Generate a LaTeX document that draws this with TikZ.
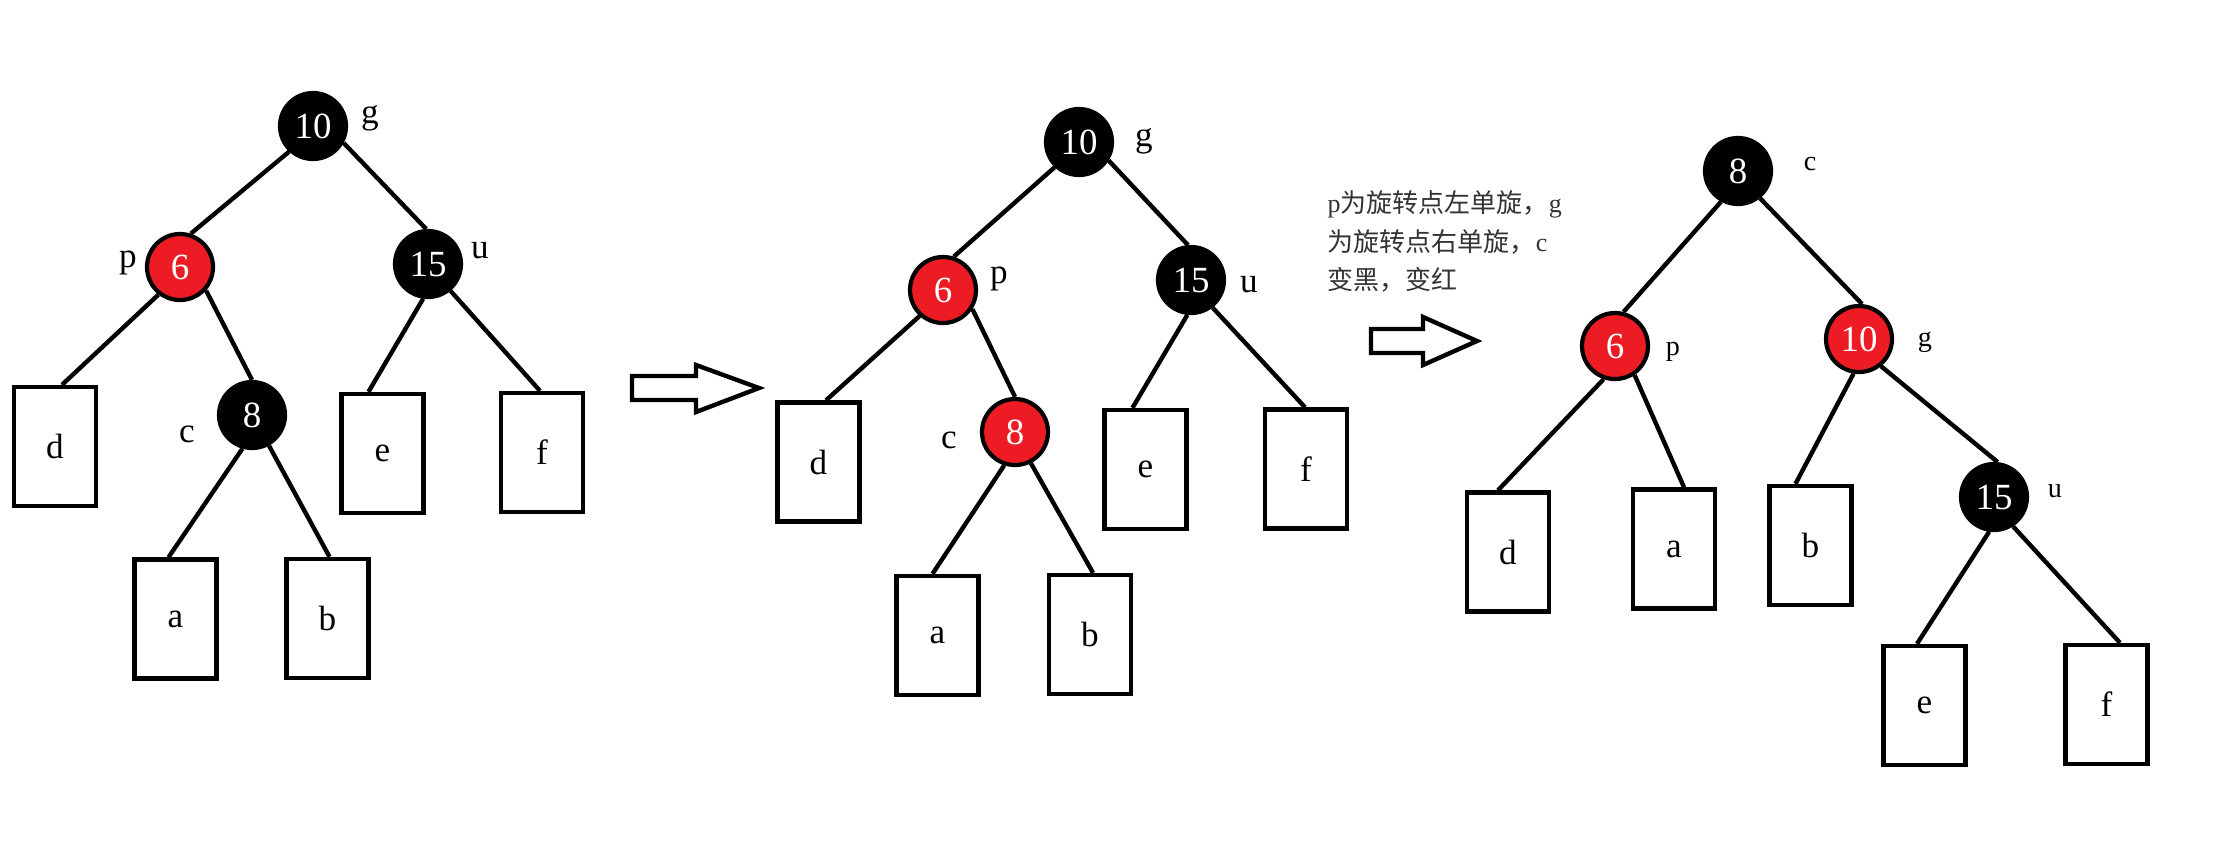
\documentclass[tikz,border=0pt]{standalone}
\usepackage{fontspec}
\setmainfont{Liberation Serif}
\newfontfamily\cjk{Noto Sans CJK SC}
\usepackage{tikz}
\usetikzlibrary{positioning}
\definecolor{paintred}{HTML}{ED1C24}

\begin{document}
\begin{tikzpicture}[
  blacknode/.style={circle,draw=black,fill=black,text=white,minimum size=0.66cm,inner sep=0pt,line width=1.2pt,font=\fontsize{10.5}{12}\selectfont},
  rednode/.style={blacknode,fill=paintred},
  leaf/.style={rectangle,draw=black,line width=1.25pt,minimum width=0.82cm,minimum height=1.19cm,inner sep=0pt,font=\fontsize{10}{12}\selectfont},
  tag/.style={inner sep=0pt,font=\fontsize{10}{12}\selectfont},
  smalltag/.style={inner sep=0pt,font=\fontsize{8}{10}\selectfont},
  link/.style={line width=1.25pt}]
\useasboundingbox (0,0) rectangle (22.40,-8.42);

\node (g1) at (3.13,-1.26) [blacknode] {10};
\node (p1) at (1.80,-2.67) [rednode] {6};
\node (u1) at (4.28,-2.64) [blacknode] {15};
\node (c1) at (2.52,-4.15) [blacknode] {8};
\node (d1) at (0.55,-4.465) [leaf] {d};
\node (e1) at (3.825,-4.535) [leaf] {e};
\node (f1) at (5.42,-4.525) [leaf] {f};
\node (a1) at (1.755,-6.19) [leaf] {a};
\node (b1) at (3.275,-6.185) [leaf] {b};
\node (tg1) at (3.70,-1.18) [tag] {g};
\node (tp1) at (1.28,-2.63) [tag] {p};
\node (tu1) at (4.80,-2.51) [tag] {u};
\node (tc1) at (1.87,-4.34) [tag] {c};
\draw[link] (g1.227) -- (p1.72);
\draw[link] (g1.331) -- (u1.93);
\draw[link] (p1.232) -- ([xshift=0.07cm]d1.north);
\draw[link] (p1.318) -- (c1.90);
\draw[link] (c1.254) -- ([xshift=-0.07cm]a1.north);
\draw[link] (c1.299) -- ([xshift=0.02cm]b1.north);
\draw[link] (u1.262) -- ([xshift=-0.14cm]e1.north);
\draw[link] (u1.310) -- ([xshift=-0.02cm]f1.north);

\draw[line width=1.25pt,line join=miter] (6.32,-3.76) -- (6.96,-3.76) -- (6.96,-3.65) -- (7.59,-3.88) -- (6.96,-4.12) -- (6.96,-4.00) -- (6.32,-4.00) -- cycle;

\node (g2) at (10.79,-1.42) [blacknode] {10};
\node (p2) at (9.43,-2.90) [rednode] {6};
\node (u2) at (11.91,-2.80) [blacknode] {15};
\node (c2) at (10.15,-4.32) [rednode] {8};
\node (d2) at (8.185,-4.62) [leaf] {d};
\node (e2) at (11.455,-4.695) [leaf] {e};
\node (f2) at (13.06,-4.69) [leaf] {f};
\node (a2) at (9.375,-6.355) [leaf] {a};
\node (b2) at (10.90,-6.345) [leaf] {b};
\node (tg2) at (11.44,-1.41) [tag] {g};
\node (tp2) at (9.99,-2.79) [tag] {p};
\node (tu2) at (12.49,-2.85) [tag] {u};
\node (tc2) at (9.49,-4.40) [tag] {c};
\draw[link] (g2.226) -- (p2.72);
\draw[link] (g2.328) -- (u2.95);
\draw[link] (p2.228) -- ([xshift=0.075cm]d2.north);
\draw[link] (p2.327) -- (c2.90);
\draw[link] (c2.252) -- ([xshift=-0.05cm]a2.north);
\draw[link] (c2.297) -- ([xshift=0.03cm]b2.north);
\draw[link] (u2.264) -- ([xshift=-0.13cm]e2.north);
\draw[link] (u2.308) -- ([xshift=-0.01cm]f2.north);

\node (note) at (13.27,-1.90) [anchor=north west,inner sep=0pt,align=left,text=black!80,font=\fontsize{7.4}{11}\selectfont]
  {p{\cjk 为旋转点左单旋，}g\\{\cjk 为旋转点右单旋，}c\\{\cjk 变黑，变红}};

\draw[line width=1.25pt,line join=miter] (13.71,-3.29) -- (14.23,-3.29) -- (14.23,-3.17) -- (14.77,-3.41) -- (14.23,-3.65) -- (14.23,-3.53) -- (13.71,-3.53) -- cycle;

\node (c3) at (17.38,-1.71) [blacknode] {8};
\node (p3) at (16.15,-3.46) [rednode] {6};
\node (g3) at (18.59,-3.39) [rednode] {10};
\node (u3) at (19.94,-4.97) [blacknode] {15};
\node (d3) at (15.08,-5.52) [leaf] {d};
\node (a3) at (16.74,-5.49) [leaf] {a};
\node (b3) at (18.105,-5.455) [leaf] {b};
\node (e3) at (19.245,-7.055) [leaf] {e};
\node (f3) at (21.065,-7.045) [leaf] {f};
\node (tc3) at (18.10,-1.64) [smalltag] {c};
\node (tp3) at (16.73,-3.52) [smalltag] {p};
\node (tg3) at (19.25,-3.42) [smalltag] {g};
\node (tu3) at (20.55,-4.91) [smalltag] {u};
\draw[link] (c3.241) -- (p3.76);
\draw[link] (c3.309) -- (g3.85);
\draw[link] (p3.251) -- ([xshift=-0.10cm]d3.north);
\draw[link] (p3.304) -- ([xshift=0.10cm]a3.north);
\draw[link] (g3.261) -- ([xshift=-0.15cm]b3.north);
\draw[link] (g3.309) -- (u3.84);
\draw[link] (u3.262) -- ([xshift=-0.075cm]e3.north);
\draw[link] (u3.303) -- ([xshift=0.135cm]f3.north);
\end{tikzpicture}
\end{document}
